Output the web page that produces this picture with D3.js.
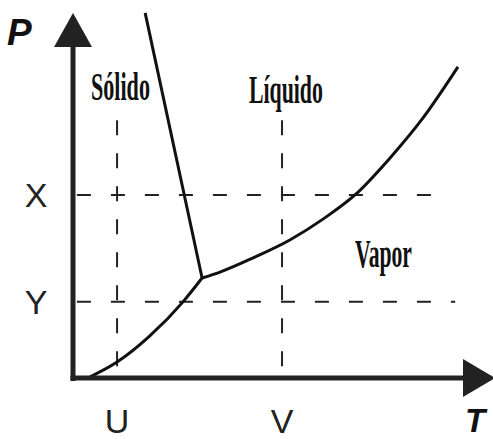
<!DOCTYPE html>
<html>
<head>
<meta charset="utf-8">
<script src="https://cdn.jsdelivr.net/npm/d3@7"></script>
<style>
  body { margin: 0; background: #fff; }
  svg { display: block; }
</style>
</head>
<body>
<svg id="p1" width="493" height="439"></svg>
<script>

// phase diagram data (T, P in arbitrary units)
var sublimacao = [[0.38, 0], [1.13, 0.48], [1.97, 1.27], [2.82, 2.30], [3.31, 3.02]];
var fusao = [[3.31, 3.02], [1.85, 11.03]];
var vaporizacao = [[3.31, 3.02], [3.77, 3.20], [4.62, 3.63], [5.56, 4.17], [6.41, 4.80],
                   [7.23, 5.53], [8.13, 6.65], [8.97, 7.85], [9.87, 9.40]];

var tTicks = [{ name: "U", v: 1.13 }, { name: "V", v: 5.36 }];
var pTicks = [{ name: "X", v: 5.53, end: 9.36 }, { name: "Y", v: 2.30, end: 9.80 }];
var vTop = 7.79;

var regioes = [
    { name: "Sólido", t: 0.46, p: 8.40, w: 59 },
    { name: "Líquido", t: 4.51, p: 8.31, w: 74 },
    { name: "Vapor", t: 7.23, p: 3.35, w: 57 }
];

var svg1 = d3.select("#p1");

var x = d3.scaleLinear().domain([0, 10]).range([73, 463]);
var y = d3.scaleLinear().domain([0, 10]).range([378, 47]);

// dashed guides
svg1.selectAll("line.vdash")
    .data(tTicks)
    .enter()
    .append("line")
    .attr("x1", function(d) { return x(d.v); })
    .attr("x2", function(d) { return x(d.v); })
    .attr("y1", y(vTop))
    .attr("y2", y(0))
    .attr("stroke", "#222")
    .attr("stroke-width", 2)
    .attr("stroke-dasharray", "15,18");

svg1.selectAll("line.hdash")
    .data(pTicks)
    .enter()
    .append("line")
    .attr("x1", x(0.1))
    .attr("x2", function(d) { return x(d.end); })
    .attr("y1", function(d) { return y(d.v); })
    .attr("y2", function(d) { return y(d.v); })
    .attr("stroke", "#222")
    .attr("stroke-width", 2)
    .attr("stroke-dasharray", "14,20");

// curves
var line = d3.line()
    .x(function(d) { return x(d[0]); })
    .y(function(d) { return y(d[1]); })
    .curve(d3.curveMonotoneX);

[sublimacao, vaporizacao].forEach(function(c) {
    svg1.append("path")
        .attr("d", line(c))
        .attr("fill", "none")
        .attr("stroke", "#111")
        .attr("stroke-width", 3)
        .attr("stroke-linejoin", "round");
});

svg1.append("path")
    .attr("d", d3.line().x(function(d) { return x(d[0]); }).y(function(d) { return y(d[1]); })(fusao))
    .attr("fill", "none")
    .attr("stroke", "#111")
    .attr("stroke-width", 3);

// axes
svg1.append("line")
    .attr("x1", x(0)).attr("x2", x(0))
    .attr("y1", y(0) + 3).attr("y2", y(10))
    .attr("stroke", "#222").attr("stroke-width", 5);

svg1.append("line")
    .attr("x1", x(0) - 2.5).attr("x2", x(10))
    .attr("y1", y(0)).attr("y2", y(0))
    .attr("stroke", "#222").attr("stroke-width", 5);

svg1.append("path")
    .attr("d", "M" + (x(0) - 19) + "," + y(10) + "L" + (x(0) + 19) + "," + y(10) + "L" + x(0) + "," + (y(10) - 34) + "Z")
    .attr("fill", "#222");

svg1.append("path")
    .attr("d", "M" + x(10) + "," + (y(0) - 19) + "L" + x(10) + "," + (y(0) + 19) + "L" + (x(10) + 32) + "," + y(0) + "Z")
    .attr("fill", "#222");

// axis titles
svg1.append("text")
    .attr("x", 7)
    .attr("y", 45)
    .text("P")
    .attr("font-family", "Liberation Sans")
    .attr("font-weight", "bold")
    .attr("font-style", "italic")
    .attr("font-size", "37px")
    .attr("fill", "#111");

svg1.append("text")
    .attr("x", 465)
    .attr("y", 432)
    .text("T")
    .attr("font-family", "Liberation Sans")
    .attr("font-weight", "bold")
    .attr("font-style", "italic")
    .attr("font-size", "33px")
    .attr("fill", "#111");

// tick letters
svg1.selectAll("text.tt")
    .data(tTicks)
    .enter()
    .append("text")
    .attr("x", function(d) { return x(d.v); })
    .attr("y", 433)
    .attr("text-anchor", "middle")
    .text(function(d) { return d.name; })
    .attr("font-family", "Liberation Sans")
    .attr("font-size", "34px")
    .attr("fill", "#222");

svg1.selectAll("text.pt")
    .data(pTicks)
    .enter()
    .append("text")
    .attr("x", 36)
    .attr("y", function(d) { return y(d.v) + 12; })
    .attr("text-anchor", "middle")
    .text(function(d) { return d.name; })
    .attr("font-family", "Liberation Sans")
    .attr("font-size", "34px")
    .attr("fill", "#222");

// region names
svg1.selectAll("text.reg")
    .data(regioes)
    .enter()
    .append("text")
    .attr("x", function(d) { return x(d.t); })
    .attr("y", function(d) { return y(d.p); })
    .attr("textLength", function(d) { return d.w; })
    .attr("lengthAdjust", "spacingAndGlyphs")
    .text(function(d) { return d.name; })
    .attr("font-family", "Liberation Serif")
    .attr("font-weight", "bold")
    .attr("font-size", "41px")
    .attr("fill", "#111");

</script>
</body>
</html>
